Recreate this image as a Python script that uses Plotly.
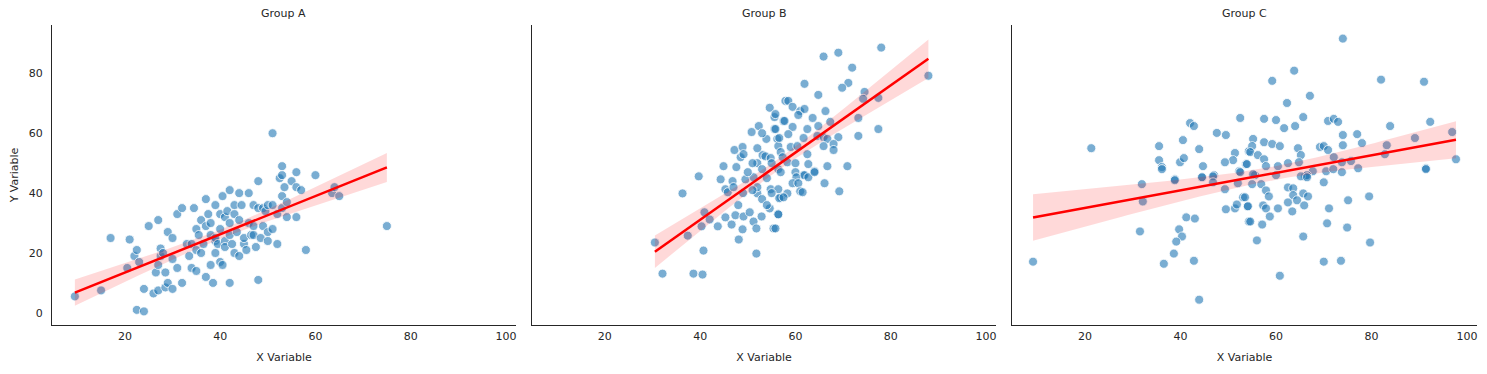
import numpy as np
import plotly.graph_objects as go

groups = ["Group A", "Group B", "Group C"]

a_x = [9.5,15,17,21,20.5,22,22.5,23,22.5,24,24,25,26,26.5,27,27,27,27.5,27.5,28,28.5,28.5,29,29,30,30,30,31,31,32,32,33,33.5,34,34,34.5,35,35,35,35.5,36,36,36.5,37,37,37,37.5,38,38,38,38.5,39,39,39,39,39.5,40,40,40,40.5,40.5,41,41,41,41.5,42,42,42,42,42.5,43,43,43,43.5,44,44,44,44.5,45,45,45.5,46,46,46.5,47,47,47,47.5,48,48,48,48.5,49,49,49.5,50,50,50,51,51,51,52,52,52.5,53,53,53,53,53.5,54,54,55,56,56,56,57,58,60,63.5,64,65,75]
a_y = [5.5,7.5,25,24.5,15,19,21,17,1,0.5,8,29,6.5,13.5,16,7.5,31,19,21.5,20,13.5,8.5,10,27,25,18,8,33,15,35,10,23,19,15,23,35,28,14,21,26,31,20,23,12,29,38,33,26,30,16,10,24,25,36,20,23,28,33,17,16,39,32,24,22,34,41,30,26,10,23,20,33,36,27,40,31,19,36,23,25,21,30,40,26,36,29,26,22,35,44,11,25,35,29,34,36,27,24,60,28,36,33,23,45,49,46,39,35,42,37,32,44,47,42,32,41,21,46,40,42,39,29]

b_x = [30.5,32.1,36.3,37.4,38.6,40.5,40.7,39.7,40.9,42.0,40.3,43.7,45.3,46.6,47.4,48.1,48.9,49.1,50.4,51.2,51.8,51.8,52.9,54.6,55.4,56.4,44.3,45.3,46.8,45.8,49.5,51.2,52.0,54.8,56.9,
       44.9,47.6,47.2,48.9,48.5,49.1,52.0,53.1,53.7,53.9,54.8,50.8,52.3,54.6,55.6,55.6,56.2,56.4,56.9,57.5,57.9,
       65.9,69.0,78.0,71.9,87.9,61.9,71.1,69.8,64.8,74.5,74.2,77.4,58.5,59.4,61.0,61.9,60.6,66.3,55.8,57.7,63.6,67.3,73.2,59.4,62.5,64.8,77.4,55.8,58.5,56.6,73.2,69.0,61.7,64.6,65.9,66.7,68.0,59.0,60.4,62.5,65.9,68.0,57.3,58.3,60.0,62.7,66.7,70.9,56.4,60.0,64.0,61.7,
       56.9,60.2,61.9,62.7,64.0,59.4,60.6,66.1,56.4,58.3,61.0,61.5,69.2,56.6,57.5,56.4,55.8,
       52,53,54,55,53,51,50,49,48,47,54,55,52,51,53]
b_y = [23.5,13.1,39.9,25.8,13.1,12.8,20.8,45.6,33.6,31.2,28.9,28.9,31.9,29.5,32.6,24.5,27.9,32.2,33.6,30.5,28.2,19.8,32.2,34.9,28.2,32.9,44.6,41.3,44.0,40.3,44.6,45.3,39.9,41.3,38.6,
       49.0,48.7,54.4,55.4,52.0,53.0,50.0,52.7,52.3,58.1,51.7,60.4,62.4,68.5,65.4,61.4,58.1,55.7,53.7,64.1,70.8,
       85.6,86.9,88.6,81.9,79.2,76.5,76.8,75.2,72.8,73.8,71.5,71.8,70.8,68.8,67.4,68.1,66.1,67.4,66.4,64.1,65.1,63.8,65.1,62.1,61.4,62.4,61.4,61.4,59.7,58.4,59.1,58.7,58.4,59.1,58.7,58.1,56.4,55.4,55.7,53.0,55.7,54.4,52.0,50.3,50.0,49.7,49.0,49.0,48.0,47.0,47.3,46.0,
       47.0,45.3,46.0,45.3,47.0,43.3,43.3,43.3,41.3,39.9,40.6,40.3,40.6,38.3,38.6,32.9,28.2,
       42,38,45,40,48,41,47,40,36,42,36,50,55,50,60]

c_x = [21.3,35.5,35.5,36.1,40.5,42.0,42.8,43.9,39.9,40.7,44.7,47.6,49.5,52.5,51.4,51.0,49.3,53.7,52.3,54.3,38.8,44.5,47.0,
       74.0,63.8,59.2,82.0,91.0,67.1,62.3,57.5,60.0,65.7,64.0,61.7,70.9,72.1,73.0,83.9,92.3,74.0,77.0,78.0,55.2,57.5,59.2,60.8,55.0,54.6,56.2,64.6,69.2,70.0,70.9,74.0,65.2,72.1,83.2,82.8,89.1,96.9,97.7,91.4,53.9,57.5,57.9,60.4,62.5,64.8,67.7,70.5,72.0,73.8,75.7,77.2,73.8,55.6,60.0,66.1,66.5,
       9.1,31.9,32.1,38.8,31.5,41.2,43.0,39.7,40.3,39.1,38.6,36.5,42.8,43.9,44.5,46.8,46.8,49.3,52.0,52.5,49.5,51.4,51.8,53.1,54.1,54.3,36.1,
       55.2,55.0,56.9,57.9,58.5,53.5,54.1,57.3,57.9,58.7,60.4,62.5,63.6,63.6,64.4,65.7,66.7,62.5,65.9,63.4,65.2,66.5,70.0,75.1,79.5,71.1,54.6,57.1,70.7,74.9,56.0,65.7,79.7,70.0,73.6,60.8,91.4]
c_y = [55.0,55.7,51.0,48.7,57.7,63.4,62.4,54.7,50.3,51.7,49.0,60.1,59.4,65.1,53.4,51.0,50.3,49.7,47.3,54.0,44.6,45.3,46.0,
       91.6,80.9,77.5,77.9,77.2,72.5,70.1,64.8,64.4,65.4,62.4,61.7,64.1,64.8,63.8,62.4,63.8,59.4,59.7,56.7,58.1,57.0,56.4,55.7,55.7,53.7,52.7,55.0,55.4,55.7,54.4,56.0,52.7,52.0,56.0,53.0,58.4,60.4,51.3,48.3,49.7,51.3,49.0,49.0,50.0,50.3,47.3,47.3,48.0,50.3,50.7,48.3,47.0,46.0,46.0,45.6,46.0,
       17.1,43.0,37.2,44.3,27.2,31.9,31.5,27.9,25.5,23.8,19.8,16.4,17.4,4.4,45.3,45.6,43.6,41.3,43.3,47.0,34.6,34.9,36.2,38.6,35.6,30.5,48.0,
       46.3,43.0,43.0,40.9,38.9,38.6,35.6,35.9,34.9,32.2,34.9,41.9,41.6,39.3,37.6,39.9,38.9,36.9,35.9,33.9,45.6,45.3,43.6,37.6,38.9,34.9,30.5,29.5,29.9,28.5,24.2,25.5,23.5,17.1,17.4,12.4,48.0]

data = [(a_x, a_y), (b_x, b_y), (c_x, c_y)]

FONT = "DejaVu Sans"
fig = go.Figure()
domains = [[0, 0.3256], [0.3368, 0.6625], [0.6737, 1.0]]

for i, (gx, gy) in enumerate(data):
    xs = np.array(gx, float)
    ys = np.array(gy, float)
    xa = "x" if i == 0 else f"x{i+1}"
    ya = "y" if i == 0 else f"y{i+1}"
    n = len(xs)
    slope, icpt = np.polyfit(xs, ys, 1)
    grid = np.linspace(xs.min(), xs.max(), 100)
    pred = icpt + slope * grid
    resid = ys - (icpt + slope * xs)
    s = np.sqrt(np.sum(resid ** 2) / (n - 2))
    se = s * np.sqrt(1 / n + (grid - xs.mean()) ** 2 / np.sum((xs - xs.mean()) ** 2))
    lo, hi = pred - 1.98 * se, pred + 1.98 * se
    fig.add_trace(go.Scatter(x=xs, y=ys, mode="markers", xaxis=xa, yaxis=ya,
                             marker=dict(size=9, color="rgba(31,119,180,0.6)",
                                         line=dict(color="white", width=0.8)),
                             showlegend=False, hoverinfo="skip"))
    fig.add_trace(go.Scatter(x=np.concatenate([grid, grid[::-1]]), y=np.concatenate([hi, lo[::-1]]),
                             fill="toself", fillcolor="rgba(255,0,0,0.15)", line=dict(width=0),
                             mode="lines", xaxis=xa, yaxis=ya, showlegend=False, hoverinfo="skip"))
    fig.add_trace(go.Scatter(x=grid, y=pred, mode="lines", line=dict(color="red", width=2.5),
                             xaxis=xa, yaxis=ya, showlegend=False, hoverinfo="skip"))

axis_common = dict(showgrid=False, zeroline=False, showline=True, linecolor="#262626", linewidth=1,
                   ticks="", automargin=False, tickfont=dict(family=FONT, size=11, color="#262626"))
layout = dict(width=1479, height=366, margin=dict(l=44, r=10, t=17, b=49),
              plot_bgcolor="white", paper_bgcolor="white",
              font=dict(family=FONT, size=11, color="#262626"))
for i in range(3):
    sfx = "" if i == 0 else str(i + 1)
    layout[f"xaxis{sfx}"] = dict(axis_common, domain=domains[i], range=[4.7, 102.1],
                                 tickvals=[20, 40, 60, 80, 100], anchor=f"y{sfx}", ticklabelstandoff=1,
                                 title=dict(text="X Variable", font=dict(family=FONT, size=11), standoff=11))
    yd = dict(axis_common, domain=[0, 1], range=[-4.05, 96.15], tickvals=[0, 20, 40, 60, 80],
              anchor=f"x{sfx}")
    if i == 0:
        yd["title"] = dict(text="Y Variable", font=dict(family=FONT, size=11), standoff=8)
        yd["ticklabelstandoff"] = 6
    else:
        yd["showticklabels"] = False
        yd["matches"] = "y"
    layout[f"yaxis{sfx}"] = yd
fig.update_layout(**layout)

for i, g in enumerate(groups):
    fig.add_annotation(text=g, x=(domains[i][0] + domains[i][1]) / 2, y=1.0, xref="paper", yref="paper",
                       xanchor="center", yanchor="bottom", yshift=3, showarrow=False,
                       font=dict(family=FONT, size=11, color="#262626"))

fig.write_html("out.html")
